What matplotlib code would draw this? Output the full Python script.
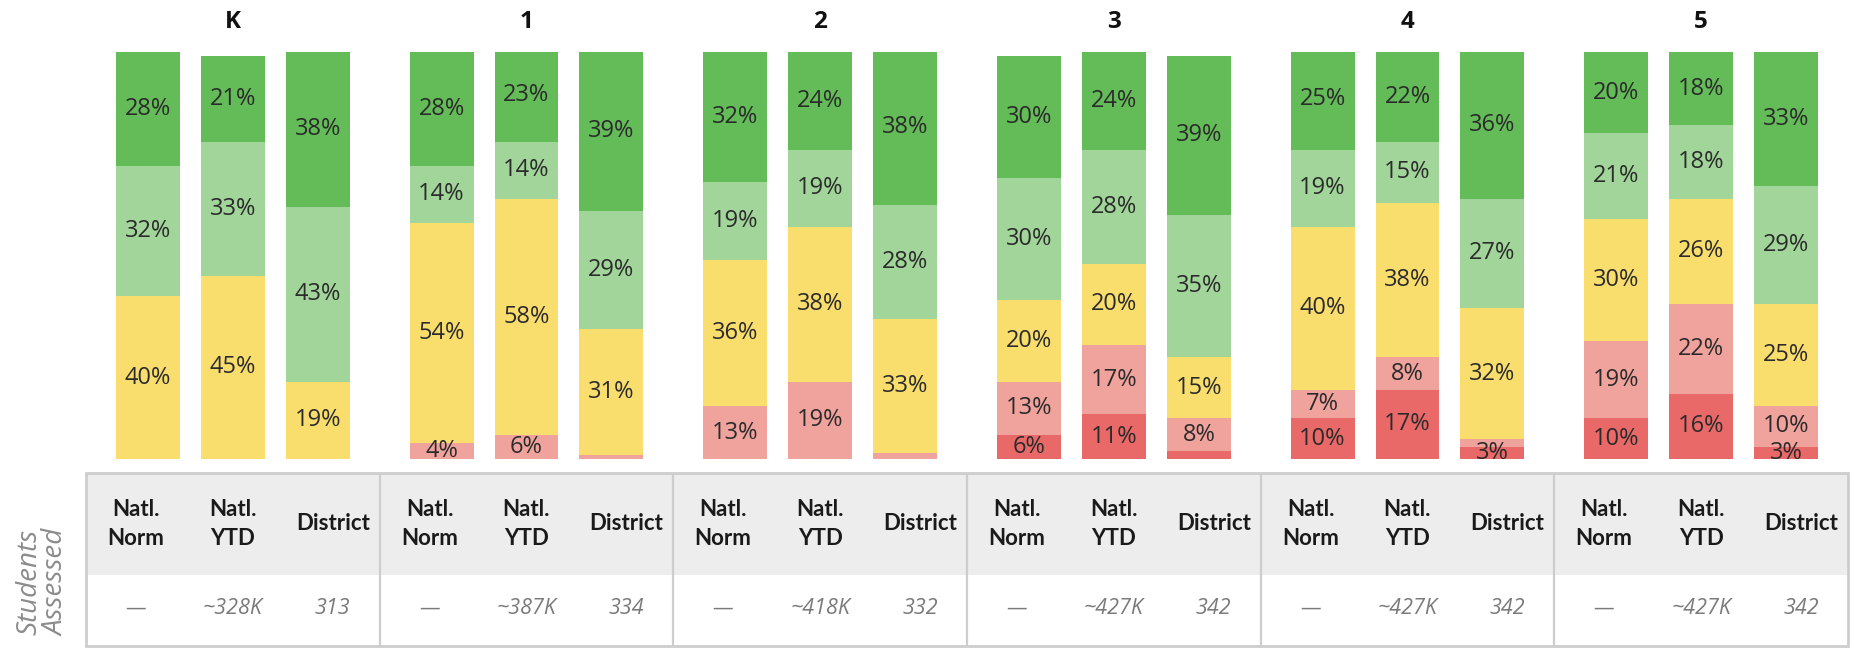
import numpy as np
import matplotlib.pyplot as plt
from matplotlib.patches import Rectangle

# datos
grades = ["K", "1", "2", "3", "4", "5"]
columns = ["Natl.\nNorm", "Natl.\nYTD", "District"]

# por grado: [Natl Norm, Natl YTD, District], niveles de abajo hacia arriba
low = [[0, 0, 0], [0, 0, 0], [0, 0, 0], [6, 11, 2], [10, 17, 3], [10, 16, 3]]
low_avg = [[0, 0, 0], [4, 6, 1], [13, 19, 1.5], [13, 17, 8], [7, 8, 2], [19, 22, 10]]
avg = [[40, 45, 19], [54, 58, 31], [36, 38, 33], [20, 20, 15], [40, 38, 32], [30, 26, 25]]
high_avg = [[32, 33, 43], [14, 14, 29], [19, 19, 28], [30, 28, 35], [19, 15, 27], [21, 18, 29]]
high = [[28, 21, 38], [28, 23, 39], [32, 24, 38], [30, 24, 39], [25, 22, 36], [20, 18, 33]]

assessed = [["—", "~328K", "313"], ["—", "~387K", "334"], ["—", "~418K", "332"],
            ["—", "~427K", "342"], ["—", "~427K", "342"], ["—", "~427K", "342"]]

colores = ["#E96868", "#F0A39D", "#F9DE6E", "#A2D59A", "#64BC58"]

W, H = 1855, 650
fig = plt.figure(figsize=(W / 100, H / 100), dpi=100)

# ejes de las barras
x0, x1 = 86, 1848
ax = fig.add_axes([x0 / W, 1 - 459 / H, (x1 - x0) / W, (459 - 52) / H])
ax.set_xlim(-0.5, 5.5)
ax.set_ylim(0, 100)
ax.axis("off")

paso = 85 / 293.7
ancho = 64 / 293.7
niveles = [low, low_avg, avg, high_avg, high]

for g in range(len(grades)):
    xs = g + (np.arange(3) - 1) * paso
    base = np.zeros(3)
    for nivel, color in zip(niveles, colores):
        vals = np.array(nivel[g], dtype=float)
        ax.bar(xs, vals, width=ancho, bottom=base, color=color, linewidth=0)
        for x, v, b in zip(xs, vals, base):
            if v >= 3:
                ax.text(x, b + v / 2, f"{v:.0f}%", ha="center", va="center",
                        fontsize=17, color="#2b2b2b", family="Open Sans")
        base += vals
    ax.text(g, 100 + 30 / 4.07, grades[g], ha="center", va="center",
            fontsize=17.5, fontweight="bold", color="#111111", family="Open Sans",
            clip_on=False)

# tabla de alumnos evaluados
tab = fig.add_axes([x0 / W, 1 - 646 / H, (x1 - x0) / W, (646 - 473) / H])
tab.set_xlim(-0.5, 5.5)
tab.set_ylim(0, 173)
tab.axis("off")
tab.add_patch(Rectangle((-0.5, 71), 6, 102, facecolor="#EDEDED", edgecolor="none"))
tab.add_patch(Rectangle((-0.5, 0), 6, 173, facecolor="none", edgecolor="#CDCDCD",
                        linewidth=2, clip_on=False))
for g in range(1, 6):
    tab.plot([g - 0.5, g - 0.5], [0, 173], color="#CDCDCD", linewidth=1.6)

col_off = np.array([-97, 0, 100]) / 293.7
for g in range(len(grades)):
    for j in range(3):
        x = g + col_off[j]
        tab.text(x, 173 - 51, columns[j], ha="center", va="center", fontsize=16,
                 fontweight="bold", color="#1a1a1a", family="Lato", linespacing=1.45)
        tab.text(x, 37, assessed[g][j], ha="center", va="center", fontsize=15.5,
                 style="italic", color="#7a7a7a", family="Open Sans")

fig.text(43 / W, 1 - 582 / H, "Students\nAssessed", rotation=90, ha="center",
         va="center", fontsize=20, style="italic", color="#8c8c8c", family="Open Sans",
         linespacing=1.0)

fig.savefig("out.png", dpi=100, facecolor="white")
